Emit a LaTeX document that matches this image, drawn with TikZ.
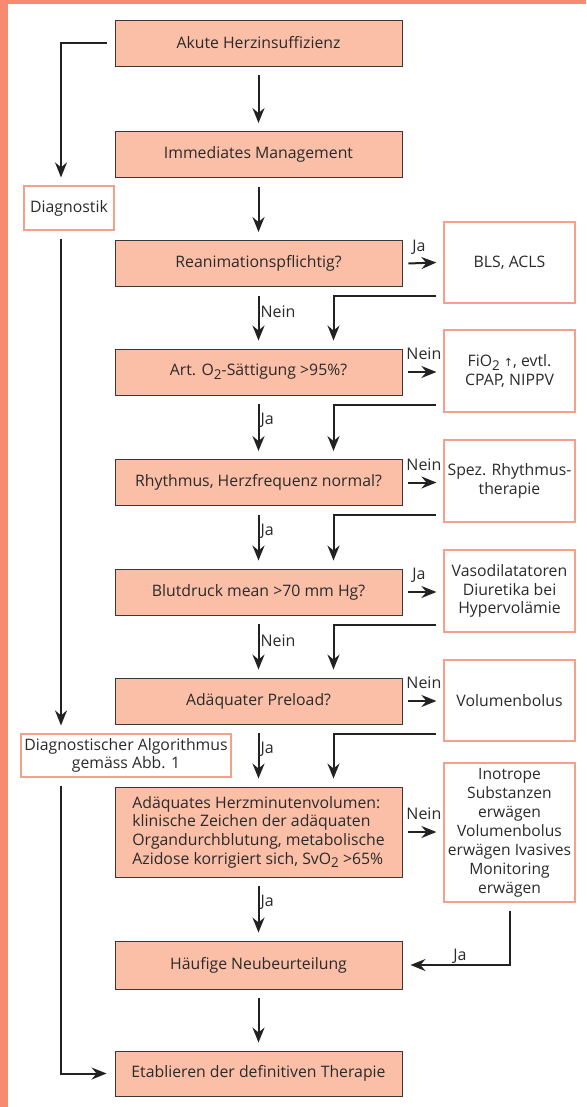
\documentclass[tikz,border=0pt]{standalone}
\usepackage{fontspec}
\setmainfont{Open Sans}
\newfontfamily\symf{DejaVu Sans}
\usetikzlibrary{arrows.meta,positioning}
\definecolor{salfill}{HTML}{FBBFA8}
\definecolor{salframe}{HTML}{F68B72}
\definecolor{salline}{HTML}{F5A08A}
\definecolor{txt}{HTML}{2A2A2A}
\definecolor{lin}{HTML}{222222}
\newcommand\sbt[1]{\raisebox{-0.45ex}{\fontsize{13.5}{13.5}\selectfont #1}}
\begin{document}
\begin{tikzpicture}[x=1pt,y=-1pt,
  every node/.style={font=\fontsize{15.8}{18.7}\selectfont, text=txt},
  mainbox/.style={draw=lin!90, line width=0.9pt, fill=salfill, minimum width=287pt, minimum height=46pt, inner sep=0pt, align=center},
  sidebox/.style={draw=salline, line width=1.2pt, fill=white, minimum width=131pt, minimum height=81pt, inner sep=0pt, align=center},
  leftbox/.style={draw=salline, line width=1.2pt, fill=white, inner sep=0pt, align=center},
  arr/.style={draw=lin, line width=2pt, -{Stealth[length=15pt,width=12pt,inset=5pt]}},
  lab/.style={font=\fontsize{16}{17}\selectfont, inner sep=1pt}
]
\useasboundingbox (0,0) rectangle (586,1107);
\fill[salframe] (0,0) rectangle (8,1107);
\fill[salframe] (0,0) rectangle (586,4);

% main boxes
\node[mainbox] (b1) at (258.5,43) {Akute Herzinsuffizienz};
\node[mainbox] (b2) at (258.5,154.5) {Immediates Management};
\node[mainbox] (b3) at (258.5,263.5) {Reanimationspflichtig?};
\node[mainbox] (b4) at (258.5,372) {Art. O\sbt{2}-Sättigung >95\%?};
\node[mainbox] (b5) at (258.5,482.5) {Rhythmus, Herzfrequenz normal?};
\node[mainbox] (b6) at (258.5,592) {Blutdruck mean >70 mm Hg?};
\node[mainbox] (b7) at (258.5,701) {Adäquater Preload?};
\node[mainbox, minimum height=90pt, align=left] (b8) at (258.5,832) {Adäquates Herzminutenvolumen:\\klinische Zeichen der adäquaten\\Organdurchblutung, metabolische\\Azidose korrigiert sich, SvO\sbt{2} >65\%};
\node[mainbox, minimum height=48pt] (b9) at (258.5,965) {Häufige Neubeurteilung};
\node[mainbox, minimum height=45pt] (b10) at (258.5,1073.5) {Etablieren der definitiven Therapie};

% side boxes
\node[sidebox] (r3) at (509.5,262.5) {BLS, ACLS};
\node[sidebox, minimum height=82pt] (r4) at (509.5,371) {FiO\sbt{2} {\symf\fontsize{11}{11}\selectfont ↑}, evtl.\\CPAP, NIPPV};
\node[sidebox, minimum height=82pt] (r5) at (509.5,481) {Spez. Rhythmus-\\therapie};
\node[sidebox, minimum height=82pt] (r6) at (509.5,591) {Vasodilatatoren\\Diuretika bei\\Hypervolämie};
\node[sidebox] (r7) at (509.5,700.5) {Volumenbolus};
\node[sidebox, minimum height=139pt, font=\fontsize{15.6}{19}\selectfont] (r8) at (509.5,832.5) {Inotrope\\Substanzen\\erwägen\\Volumenbolus\\erwägen Ivasives\\Monitoring\\erwägen};

% left boxes
\node[leftbox, minimum width=90pt, minimum height=44pt] (d1) at (69,208) {Diagnostik};
\node[leftbox, minimum width=210pt, minimum height=43pt] (d2) at (126,755.5) {Diagnostischer Algorithmus\\gemäss Abb. 1};

\coordinate (lx) at (61,0);

% main vertical arrows
\draw[arr] ([yshift=-9pt]b1.south) -- ([yshift=8pt]b2.north);
\draw[arr] ([yshift=-9pt]b2.south) -- ([yshift=8pt]b3.north);
\draw[arr] ([yshift=-9pt]b3.south) -- node[lab, right, pos=0.35] {Nein} ([yshift=8pt]b4.north);
\draw[arr] ([yshift=-9pt]b4.south) -- node[lab, right, pos=0.35] {Ja} ([yshift=8pt]b5.north);
\draw[arr] ([yshift=-9pt]b5.south) -- node[lab, right, pos=0.35] {Ja} ([yshift=8pt]b6.north);
\draw[arr] ([yshift=-9pt]b6.south) -- node[lab, right, pos=0.35] {Nein} ([yshift=8pt]b7.north);
\draw[arr] ([yshift=-9pt]b7.south) -- node[lab, right, pos=0.35] {Ja} ([yshift=8pt]b8.north);
\draw[arr] ([yshift=-9pt]b8.south) -- node[lab, right, pos=0.35] {Ja} ([yshift=8pt]b9.north);
\draw[arr] ([yshift=-9pt]b9.south) -- ([yshift=8pt]b10.north);

% right arrows
\draw[arr] ([xshift=6pt]b3.east) -- node[lab, pos=0, anchor=south west, yshift=7pt, xshift=2pt] {Ja} ([xshift=-7pt]r3.west);
\draw[arr] ([xshift=6pt]b4.east) -- node[lab, pos=0, anchor=south west, yshift=10pt, xshift=-4pt] {Nein} ([xshift=-7pt]r4.west |- b4.east);
\draw[arr] ([xshift=6pt]b5.east) -- node[lab, pos=0, anchor=south west, yshift=10pt, xshift=-4pt] {Nein} ([xshift=-7pt]r5.west |- b5.east);
\draw[arr] ([xshift=6pt]b6.east) -- node[lab, pos=0, anchor=south west, yshift=7pt, xshift=2pt] {Ja} ([xshift=-7pt]r6.west |- b6.east);
\draw[arr] ([xshift=6pt]b7.east) -- node[lab, pos=0, anchor=south west, yshift=10pt, xshift=-4pt] {Nein} ([xshift=-7pt]r7.west |- b7.east);
\draw[arr] ([xshift=6pt]b8.east) -- node[lab, pos=0, anchor=south west, yshift=10pt, xshift=-4pt] {Nein} ([xshift=-7pt]r8.west |- b8.east);

% return lines
\draw[arr] ([xshift=-7pt,yshift=8pt]r3.south west) -| ([xshift=75pt,yshift=8pt]b4.north);
\draw[arr] ([xshift=-7pt,yshift=8pt]r4.south west) -| ([xshift=75pt,yshift=8pt]b5.north);
\draw[arr] ([xshift=-7pt,yshift=8pt]r5.south west) -| ([xshift=75pt,yshift=8pt]b6.north);
\draw[arr] ([xshift=-7pt,yshift=8pt]r6.south west) -| ([xshift=75pt,yshift=8pt]b7.north);
\draw[arr] ([xshift=-7pt,yshift=8pt]r7.south west) -| ([xshift=75pt,yshift=8pt]b8.north);
\draw[arr] ([yshift=-8pt]r8.south) |- node[lab, above, pos=0.75] {Ja} ([xshift=8pt]b9.east);

% left side
\draw[arr] ([xshift=-8pt]b1.west) -| ([yshift=8pt]d1.north -| lx);
\draw[arr] ([yshift=-8pt]d1.south -| lx) -- ([yshift=8pt]d2.north -| lx);
\draw[arr] ([yshift=-8pt]d2.south -| lx) |- ([xshift=-8pt]b10.west);
\end{tikzpicture}
\end{document}
